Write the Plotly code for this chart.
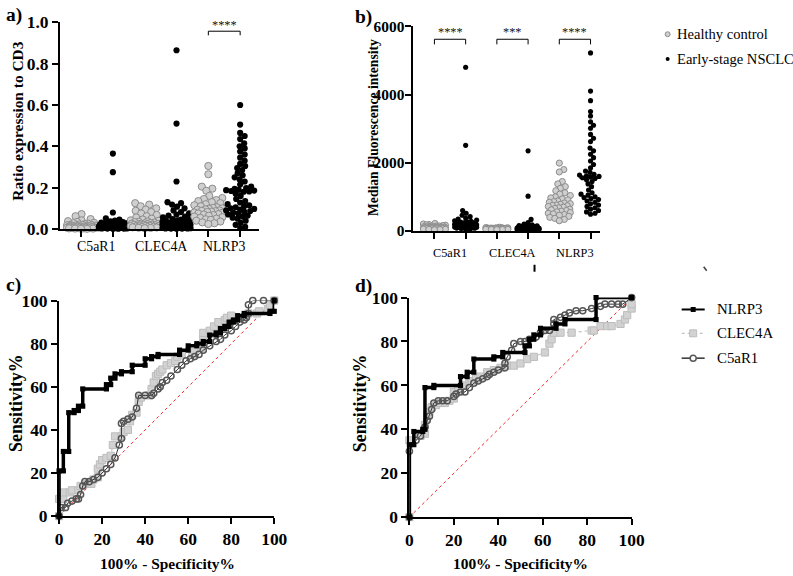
import numpy as np
import plotly.graph_objects as go

# ---------------- DATA ----------------
groups = ["C5aR1", "CLEC4A", "NLRP3"]

# Panel a: ratio expression to CD3
a_c5ar1_h = [0.072, 0.062, 0.048, 0.042, 0.038, 0.034, 0.03, 0.028, 0.026, 0.024, 0.022, 0.02, 0.02, 0.019,
             0.018, 0.017, 0.016, 0.015, 0.015, 0.014, 0.013, 0.012, 0.012, 0.011, 0.01, 0.01, 0.009, 0.009,
             0.008, 0.008, 0.007, 0.007, 0.006, 0.006, 0.005, 0.005, 0.004, 0.004, 0.003, 0.003, 0.002, 0.002,
             0.001, 0.001]
a_c5ar1_n = [0.365, 0.275, 0.08, 0.052, 0.046, 0.041, 0.037, 0.034, 0.031, 0.029, 0.027, 0.026, 0.025, 0.024,
             0.023, 0.022, 0.022, 0.021, 0.02, 0.02, 0.019, 0.019, 0.018, 0.018, 0.017, 0.017, 0.016, 0.016,
             0.015, 0.015, 0.014, 0.014, 0.013, 0.013, 0.012, 0.012, 0.011, 0.011, 0.010, 0.010, 0.009, 0.009,
             0.008, 0.008, 0.007, 0.007, 0.006, 0.006, 0.005, 0.005, 0.004, 0.004, 0.003, 0.003, 0.002, 0.002,
             0.001, 0.001]
a_clec4a_h = [0.125, 0.118, 0.11, 0.1, 0.094, 0.088, 0.082, 0.075, 0.068, 0.062, 0.056, 0.05, 0.046, 0.042,
              0.04, 0.037, 0.035, 0.033, 0.031, 0.029, 0.028, 0.026, 0.025, 0.024, 0.023, 0.022, 0.021, 0.02,
              0.019, 0.018, 0.017, 0.016, 0.015, 0.014, 0.013, 0.012, 0.011, 0.01, 0.009, 0.008, 0.007, 0.006,
              0.005, 0.004]
a_clec4a_n = [0.865, 0.51, 0.23, 0.13, 0.125, 0.118, 0.108, 0.1, 0.09, 0.082, 0.076, 0.07, 0.065, 0.06, 0.056,
              0.052, 0.048, 0.045, 0.042, 0.04, 0.038, 0.036, 0.034, 0.033, 0.032, 0.031, 0.03, 0.029, 0.028,
              0.027, 0.026, 0.025, 0.024, 0.023, 0.022, 0.021, 0.02, 0.019, 0.018, 0.017, 0.016, 0.015, 0.014,
              0.013, 0.012, 0.011, 0.01, 0.009, 0.008, 0.007, 0.006, 0.005, 0.004, 0.003, 0.003, 0.002, 0.002,
              0.001]
a_nlrp3_h = [0.305, 0.265, 0.205, 0.195, 0.185, 0.16, 0.15, 0.145, 0.14, 0.135, 0.13, 0.125, 0.12, 0.115, 0.11,
             0.105, 0.102, 0.1, 0.098, 0.095, 0.093, 0.09, 0.088, 0.086, 0.084, 0.082, 0.08, 0.078, 0.075, 0.072,
             0.07, 0.067, 0.064, 0.06, 0.057, 0.054, 0.05, 0.047, 0.044, 0.04, 0.036, 0.032, 0.028, 0.024]
a_nlrp3_n = [0.6, 0.505, 0.465, 0.45, 0.435, 0.415, 0.4, 0.39, 0.375, 0.36, 0.345, 0.33, 0.315, 0.305, 0.295,
             0.285, 0.27, 0.26, 0.25, 0.24, 0.23, 0.215, 0.205, 0.198, 0.194, 0.19, 0.188, 0.186, 0.184, 0.182,
             0.18, 0.17, 0.16, 0.145, 0.135, 0.128, 0.12, 0.115, 0.11, 0.105, 0.1, 0.097, 0.094, 0.09, 0.087,
             0.084, 0.08, 0.075, 0.07, 0.065, 0.06, 0.055, 0.05, 0.04, 0.03, 0.02, 0.01, 0.005]

# Panel b: median fluorescence intensity
b_c5ar1_h = [220, 205, 190, 180, 170, 160, 150, 145, 140, 135, 130, 125, 120, 118, 115, 112, 110, 108, 105, 102,
             100, 98, 95, 92, 90, 88, 85, 82, 80, 78, 75, 72, 70, 68, 65, 62, 60, 55, 50, 45, 40, 35]
b_c5ar1_n = [4800, 2510, 600, 520, 460, 420, 380, 350, 320, 300, 285, 270, 260, 250, 240, 235, 230, 225, 220,
             215, 210, 205, 200, 195, 190, 185, 180, 178, 175, 172, 170, 168, 165, 162, 160, 158, 155, 152, 150,
             148, 145, 142, 140, 135, 130, 125, 120, 115, 110, 105, 100, 95, 90, 85, 80, 70, 60, 50]
b_clec4a_h = [110, 100, 95, 92, 90, 88, 86, 84, 82, 80, 78, 77, 76, 75, 74, 73, 72, 71, 70, 69, 68, 67, 66, 65,
              64, 63, 62, 61, 60, 59, 58, 57, 56, 55, 54, 52, 50, 48, 46, 44, 42, 40]
b_clec4a_n = [2350, 1020, 340, 245, 200, 180, 160, 150, 140, 130, 125, 120, 115, 112, 110, 108, 105, 102, 100,
              98, 96, 94, 92, 90, 88, 86, 84, 82, 80, 78, 76, 74, 72, 70, 68, 66, 64, 62, 60, 58, 56, 54, 52, 50,
              48, 46, 44, 42, 40, 38, 36, 34, 32, 30, 28, 26, 24, 22]
b_nlrp3_h = [1990, 1800, 1730, 1450, 1380, 1300, 1250, 1180, 1120, 1080, 1040, 1000, 970, 940, 910, 880, 860,
             840, 820, 800, 780, 760, 750, 740, 720, 700, 680, 660, 640, 620, 600, 580, 560, 540, 520, 500, 480,
             460, 430, 400, 370, 340, 300]
b_nlrp3_n = [5220, 4100, 3820, 3500, 3370, 3200, 3100, 3010, 2830, 2720, 2620, 2430, 2350, 2250, 2150, 2050,
             1950, 1850, 1760, 1720, 1690, 1660, 1640, 1620, 1600, 1580, 1560, 1540, 1500, 1450, 1380, 1300, 1200,
             1120, 1080, 1050, 1020, 1000, 980, 950, 920, 880, 840, 800, 760, 720, 680, 640, 600, 560, 520, 490]

# Panel c ROC (100% - specificity, sensitivity)
c_nlrp3_x = [0, 0, 2, 2, 4.5, 4.5, 7, 7, 9, 9, 11, 11, 22, 22, 24, 24, 26, 26, 29, 29, 34, 34, 40, 40, 43, 43,
             46, 46, 56, 56, 60, 60, 64, 64, 67, 67, 70, 70, 73, 73, 75, 75, 77, 77, 79, 79, 81, 81, 83, 83, 86,
             86, 98, 98, 100, 100]
c_nlrp3_y = [0, 21, 21, 30, 30, 48, 48, 49, 49, 51, 51, 59, 59, 61, 61, 64, 64, 66, 66, 67, 67, 70, 70, 73, 73,
             74, 74, 75, 75, 77, 77, 79, 79, 80, 80, 81, 81, 84, 84, 85, 85, 87, 87, 88, 88, 90, 90, 91, 91, 93,
             93, 94, 94, 95, 95, 100]
c_clec4a_x = [0, 0, 2, 2, 5, 6, 9, 10, 13, 15, 16, 18, 18, 19, 20, 22, 24, 25, 26, 29, 30, 32, 33, 34, 36, 37,
              38, 42, 43, 44, 45, 46, 47, 48, 50, 52, 54, 55, 57, 62, 63, 66, 67, 67, 70, 72, 74, 77, 78, 80, 87,
              88, 92, 93, 97, 98, 100]
c_clec4a_y = [0, 8, 8, 11, 11, 12, 12, 14, 15, 15, 17, 18, 22, 24, 26, 27, 28, 33, 37, 37, 39, 40, 44, 47, 48,
              53, 55, 56, 59, 62, 65, 66, 67, 68, 70, 71, 72, 74, 75, 75, 76, 78, 82, 85, 86, 88, 90, 91, 92, 93,
              93, 94, 94, 95, 96, 98, 100]
c_c5ar1_x = [0, 1, 3, 4, 6, 8, 9, 10, 11, 12, 14, 16, 18, 20, 22, 24, 26, 28, 29, 29, 30, 32, 34, 36, 37, 40,
             43, 44, 46, 47, 48, 50, 52, 55, 57, 59, 61, 63, 65, 67, 70, 73, 75, 77, 80, 82, 84, 86, 87, 88, 88,
             90, 95, 100]
c_c5ar1_y = [0, 4, 4, 6, 7, 8, 8, 10, 14, 16, 16, 17, 18, 20, 22, 24, 27, 33, 36, 43, 44, 45, 46, 50, 56, 56,
             56, 57, 59, 60, 62, 63, 65, 68, 70, 72, 73, 74, 75, 77, 79, 81, 82, 84, 86, 88, 90, 91, 92, 94, 98,
             100, 100, 100]

# Panel d ROC
d_nlrp3_x = [0, 0, 2, 2, 6, 6, 7, 7, 11, 11, 23, 23, 26, 26, 29, 29, 38, 38, 42, 42, 52, 52, 54, 54, 56, 56,
             59, 59, 66, 66, 70, 70, 84, 84, 100]
d_nlrp3_y = [0, 33, 33, 39, 39, 40, 40, 59, 59, 60, 60, 64, 64, 66, 66, 72, 72, 73, 73, 75, 75, 78, 78, 81, 81,
             83, 83, 86, 86, 88, 88, 90, 90, 100, 100]
d_clec4a_x = [0, 0, 3, 5, 7, 7, 8, 9, 10, 12, 14, 16, 18, 20, 20, 22, 25, 27, 28, 30, 32, 35, 38, 41, 44, 47,
              50, 53, 56, 61, 63, 64, 65, 68, 73, 82, 83, 86, 89, 91, 95, 97, 98, 100, 100]
d_clec4a_y = [0, 35, 37, 37, 38, 42, 46, 48, 50, 51, 52, 52, 53, 54, 57, 58, 60, 61, 62, 63, 64, 66, 67, 68, 69,
              69, 70, 72, 73, 75, 79, 81, 84, 84, 84, 85, 85, 87, 87, 87, 88, 90, 92, 95, 97]
d_c5ar1_x = [0, 0, 3, 5, 7, 8, 9, 10, 11, 13, 15, 17, 20, 21, 23, 25, 27, 29, 31, 33, 35, 36, 38, 40, 43, 43,
             44, 46, 47, 50, 52, 54, 57, 59, 61, 63, 65, 65, 68, 70, 72, 75, 78, 82, 86, 88, 91, 94, 96, 100]
d_c5ar1_y = [0, 30, 35, 37, 41, 44, 46, 49, 52, 53, 53, 53, 55, 56, 57, 57, 59, 61, 62, 63, 64, 65, 66, 67, 68,
             70, 73, 76, 79, 80, 80, 81, 82, 84, 85, 85, 88, 90, 91, 92, 93, 94, 94, 95, 96, 97, 97, 97, 97, 100]

a_yticks = [0.0, 0.2, 0.4, 0.6, 0.8, 1.0]
b_yticks = [0, 2000, 4000, 6000]
roc_ticks = [0, 20, 40, 60, 80, 100]

# ---------------- LAYOUT HELPERS ----------------
# The photographed page comes out slightly scaled; positions below are given in target pixels
# and converted back to figure pixels.
SX, TX = 0.978, 3.0
SY, TY = 0.972, 7.6
FSC = 1 / 0.975
W = int(np.ceil((793 - TX) / SX))
H = int(np.ceil((576 - TY) / SY))


def X(xr):
    return ((xr - TX) / SX) / W


def Y(yr):
    return 1 - ((yr - TY) / SY) / H


def F(s):
    return round(s * FSC, 2)


SERIF = "Liberation Serif, Times New Roman, serif"
BLACK = "#000000"
HC_FILL = "#cfcfcf"
HC_LINE = "#8c8c8c"


def swarm_offsets(vals, ypx_per, xpx_per, diam, maxw):
    vals = np.asarray(vals, float)
    order = np.argsort(vals)
    cands = [0.0]
    k = 1
    step = 0.5
    while k * step <= maxw:
        cands += [k * step, -k * step]
        k += 1
    placed = []
    offs = np.zeros(len(vals))
    for i in order:
        yv = vals[i] * ypx_per
        near = [(a, b) for a, b in placed if abs(b - yv) < diam]
        best = None
        bestd = -1
        bestc = 0.0
        for c in cands:
            md = min([np.hypot(c - a, yv - b) for a, b in near], default=1e9)
            if md >= diam:
                best = c
                break
            if md > bestd:
                bestd = md
                bestc = c
        if best is None:
            best = bestc
        placed.append((best, yv))
        offs[i] = best / xpx_per
    return offs


fig = go.Figure()

# ---------------- PANELS a & b (scatter) ----------------
panels = [
    dict(xa="x", ya="y", data=[a_c5ar1_h, a_c5ar1_n, a_clec4a_h, a_clec4a_n, a_nlrp3_h, a_nlrp3_n],
         ypx=208.0, xpx=31.8, hs=7, ns=6, maxw=14),
    dict(xa="x2", ya="y2", data=[b_c5ar1_h, b_c5ar1_n, b_clec4a_h, b_clec4a_n, b_nlrp3_h, b_nlrp3_n],
         ypx=206.0 / 6000, xpx=31.2, hs=6, ns=5, maxw=11),
]
for p in panels:
    for gi, vals in enumerate(p["data"]):
        med = float(np.median(vals))
        fig.add_trace(go.Scatter(x=[gi - 0.36, gi + 0.36], y=[med, med], mode="lines",
                                 line=dict(color=BLACK, width=2.5), xaxis=p["xa"], yaxis=p["ya"],
                                 cliponaxis=False))
    for gi, vals in enumerate(p["data"]):
        healthy = gi % 2 == 0
        size = p["hs"] if healthy else p["ns"]
        offs = swarm_offsets(vals, p["ypx"], p["xpx"], size * 0.85, p["maxw"])
        xs = gi + offs
        if healthy:
            marker = dict(size=F(size), color=HC_FILL, line=dict(color=HC_LINE, width=1))
        else:
            marker = dict(size=F(size), color=BLACK, line=dict(width=0))
        fig.add_trace(go.Scatter(x=xs, y=vals, mode="markers", marker=marker,
                                 xaxis=p["xa"], yaxis=p["ya"], cliponaxis=False))

# ---------------- PANELS c & d (ROC) ----------------
rocs = [
    dict(xa="x3", ya="y3", n=(c_nlrp3_x, c_nlrp3_y), cl=(c_clec4a_x, c_clec4a_y), c5=(c_c5ar1_x, c_c5ar1_y)),
    dict(xa="x4", ya="y4", n=(d_nlrp3_x, d_nlrp3_y), cl=(d_clec4a_x, d_clec4a_y), c5=(d_c5ar1_x, d_c5ar1_y)),
]
for r in rocs:
    fig.add_trace(go.Scatter(x=r["cl"][0], y=r["cl"][1], mode="lines+markers",
                             line=dict(color="#c4c4c4", width=1.2, dash="dot"),
                             marker=dict(symbol="square", size=F(7), color="#d2d2d2",
                                         line=dict(color="#bdbdbd", width=1)),
                             xaxis=r["xa"], yaxis=r["ya"], cliponaxis=False))
    fig.add_trace(go.Scatter(x=r["c5"][0], y=r["c5"][1], mode="lines+markers",
                             line=dict(color="#333333", width=1),
                             marker=dict(symbol="circle-open", size=F(6), color="#555555",
                                         line=dict(width=1.5)),
                             xaxis=r["xa"], yaxis=r["ya"], cliponaxis=False))
    fig.add_trace(go.Scatter(x=r["n"][0], y=r["n"][1], mode="lines+markers",
                             line=dict(color=BLACK, width=3.5),
                             marker=dict(symbol="square", size=F(5), color=BLACK),
                             xaxis=r["xa"], yaxis=r["ya"], cliponaxis=False))

# ---------------- AXES ----------------
def tf(size):
    return dict(family=SERIF, size=F(size), color=BLACK, weight="bold")

common = dict(showline=True, linewidth=2, linecolor=BLACK, ticks="outside", ticklen=6, tickwidth=2,
              tickcolor=BLACK, showgrid=False, zeroline=False, mirror=False, fixedrange=True)

layout = dict(
    width=W, height=H, autosize=False, margin=dict(l=0, r=0, t=0, b=0, pad=0),
    paper_bgcolor="white", plot_bgcolor="white", showlegend=False, hovermode=False,
    xaxis=dict(domain=[X(59), X(258)], range=[-0.66, 5.6], tickvals=list(range(6)), ticktext=[""] * 6,
               anchor="y", **common),
    yaxis=dict(domain=[Y(228), Y(20)], range=[0, 1.0], tickvals=a_yticks,
               ticktext=[f"{v:.1f}" for v in a_yticks], tickfont=tf(17), anchor="x", **common),
    xaxis2=dict(domain=[X(412), X(598)], range=[-0.673, 5.29], tickvals=list(range(6)), ticktext=[""] * 6,
                anchor="y2", **common),
    yaxis2=dict(domain=[Y(230), Y(24)], range=[0, 6000], tickvals=b_yticks, ticklabelstandoff=-2,
                ticktext=[str(v) for v in b_yticks], tickfont=tf(15), anchor="x2", **common),
    xaxis3=dict(domain=[X(58), X(273)], range=[0, 100], tickvals=roc_ticks, ticktext=[str(v) for v in roc_ticks],
                tickfont=tf(17), anchor="y3", **common),
    yaxis3=dict(domain=[Y(517), Y(300)], range=[0, 100], tickvals=roc_ticks,
                ticktext=[str(v) for v in roc_ticks], tickfont=tf(17), anchor="x3", **common),
    xaxis4=dict(domain=[X(408), X(630)], range=[0, 100], tickvals=roc_ticks, ticktext=[str(v) for v in roc_ticks],
                tickfont=tf(17), anchor="y4", **common),
    yaxis4=dict(domain=[Y(518), Y(297)], range=[0, 100], tickvals=roc_ticks,
                ticktext=[str(v) for v in roc_ticks], tickfont=tf(17), anchor="x4", **common),
)
fig.update_layout(**layout)

ann = []
shapes = []

# chance diagonals
for xr, yr in (("x3", "y3"), ("x4", "y4")):
    shapes.append(dict(type="line", xref=xr, yref=yr, x0=0, y0=0, x1=100, y1=100, layer="below",
                       line=dict(color="#ee2a2a", width=1, dash="dot")))


def text(x, y, s, size=14, bold=False, xanchor="center", yanchor="middle", angle=0, xref="paper", yref="paper",
         color=BLACK):
    f = dict(family=SERIF, size=F(size), color=color)
    if bold:
        f["weight"] = "bold"
    ann.append(dict(x=x, y=y, xref=xref, yref=yref, text=s, showarrow=False, font=f, xanchor=xanchor,
                    yanchor=yanchor, textangle=angle))

# panel letters
text(X(13), Y(13), "a)", 19, True)
text(X(362), Y(15), "b)", 19, True)
text(X(12), Y(284), "c)", 19, True)
text(X(362), Y(285), "d)", 19, True)

# axis titles
text(X(17), Y(120), "Ratio expression to CD3", 15, True, angle=-90)
text(X(372), Y(126), "Median Fluorescence intensity", 13.3, True, angle=-90)
text(X(15), Y(403), "Sensitivity%", 17.5, True, angle=-90)
text(X(359), Y(403), "Sensitivity%", 17.5, True, angle=-90)
text(X(166), Y(565), "100% - Specificity%", 15, True)
text(X(519), Y(565), "100% - Specificity%", 15, True)

# category labels
for i, g in enumerate(groups):
    text(2 * i + 0.5, Y(246), g, 13.5, xref="x")
    text(2 * i + 0.5, Y(252), g, 12, xref="x2")

# significance brackets
def bracket(xref, yref, x0, x1, yb, yt, ys, stars):
    shapes.append(dict(type="line", xref=xref, yref=yref, x0=x0, x1=x1, y0=yb, y1=yb,
                       line=dict(color=BLACK, width=1)))
    for xx in (x0, x1):
        shapes.append(dict(type="line", xref=xref, yref=yref, x0=xx, x1=xx, y0=yb, y1=yt,
                           line=dict(color=BLACK, width=1)))
    text((x0 + x1) / 2, ys, stars, 12, xref=xref, yref=yref, yanchor="middle", color="#111111")

bracket("x", "y", 4, 5, 0.957, 0.937, 0.985, "****")
bracket("x2", "y2", 0, 1, 5620, 5470, 5830, "****")
bracket("x2", "y2", 2, 3, 5620, 5470, 5830, "***")
bracket("x2", "y2", 4, 5, 5620, 5470, 5830, "****")

# top legend
shapes.append(dict(type="circle", xref="paper", yref="paper", x0=X(663.5), x1=X(668.5), y0=Y(34.5),
                   y1=Y(29.5), fillcolor=HC_FILL, line=dict(color=HC_LINE, width=1)))
shapes.append(dict(type="circle", xref="paper", yref="paper", x0=X(664), x1=X(668), y0=Y(59),
                   y1=Y(55), fillcolor=BLACK, line=dict(color=BLACK, width=0)))
text(X(673), Y(32), "Healthy control", 14.2, xanchor="left")
text(X(673), Y(57), "Early-stage NSCLC", 14.2, xanchor="left")

# ROC legend
lx0, lx1, lxm = 680, 703, 691.5
shapes.append(dict(type="line", xref="paper", yref="paper", x0=X(lx0), x1=X(lx1), y0=Y(309), y1=Y(309),
                   line=dict(color=BLACK, width=2)))
shapes.append(dict(type="rect", xref="paper", yref="paper", x0=X(lxm - 2.5), x1=X(lxm + 2.5),
                   y0=Y(311.5), y1=Y(306.5), fillcolor=BLACK, line=dict(width=0)))
shapes.append(dict(type="line", xref="paper", yref="paper", x0=X(lx0), x1=X(lx1), y0=Y(333), y1=Y(333),
                   line=dict(color="#c4c4c4", width=1.2, dash="dot")))
shapes.append(dict(type="rect", xref="paper", yref="paper", x0=X(lxm - 3.5), x1=X(lxm + 3.5),
                   y0=Y(336.5), y1=Y(329.5), fillcolor="#d2d2d2", line=dict(color="#bdbdbd", width=1)))
shapes.append(dict(type="line", xref="paper", yref="paper", x0=X(lx0), x1=X(lx1), y0=Y(358), y1=Y(358),
                   line=dict(color="#333333", width=1.5)))
shapes.append(dict(type="circle", xref="paper", yref="paper", x0=X(lxm - 3), x1=X(lxm + 3),
                   y0=Y(361), y1=Y(355), fillcolor="white", line=dict(color="#555555", width=1.5)))
text(X(713), Y(309), "NLRP3", 14.5, xanchor="left")
text(X(713), Y(333), "CLEC4A", 14.5, xanchor="left")
text(X(713), Y(358), "C5aR1", 14.5, xanchor="left")

# small cropped-glyph remnants visible in the original figure
shapes.append(dict(type="line", xref="paper", yref="paper", x0=X(533), x1=X(533), y0=Y(264), y1=Y(271),
                   line=dict(color=BLACK, width=2)))
shapes.append(dict(type="line", xref="paper", yref="paper", x0=X(702), x1=X(705), y0=Y(266), y1=Y(270),
                   line=dict(color="#444444", width=1.5)))

fig.update_layout(annotations=ann, shapes=shapes)
fig.write_html("out.html", config=dict(displayModeBar=False, responsive=False))

with open("out.html", "r", encoding="utf-8") as fh:
    html = fh.read()
css = "<style>html,body{margin:0;padding:0;overflow:hidden;}</style>"
html = html.replace("<head>", "<head>" + css, 1)
with open("out.html", "w", encoding="utf-8") as fh:
    fh.write(html)
